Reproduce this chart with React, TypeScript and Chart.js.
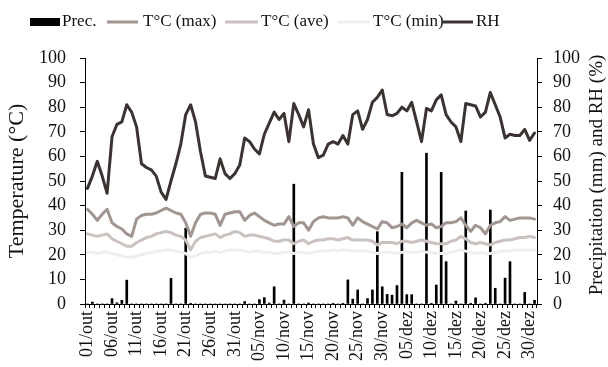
import React, { useEffect, useRef } from 'react';
import { Chart, registerables } from 'chart.js';

Chart.register(...registerables);

// Daily categories, 01/out .. 31/dez
const MONTHS: [string, number][] = [['out', 31], ['nov', 30], ['dez', 31]];
const DAYS: string[] = [];
for (const [m, n] of MONTHS) {
  for (let d = 1; d <= n; d++) DAYS.push(`${String(d).padStart(2, '0')}/${m}`);
}

// Labels shown on the date axis
const TICK_LABELS = [
  '01/out', '06/out', '11/out', '16/out', '21/out', '26/out', '31/out',
  '05/nov', '10/nov', '15/nov', '20/nov', '25/nov', '30/nov',
  '05/dez', '10/dez', '15/dez', '20/dez', '25/dez', '30/dez',
];

// Daily precipitation (mm)
const PREC = [
  0, 0.8, 0, 0, 0, 2.2, 0.5, 1.5, 9.7, 0,
  0, 0, 0, 0, 0, 0, 0, 10.4, 0, 0,
  30.8, 0.3, 0, 0, 0, 0, 0, 0, 0, 0,
  0, 0, 1, 0, 0, 1.8, 2.6, 0.4, 7, 0,
  1.6, 0, 48.7, 0, 0, 0.4, 0, 0, 0, 0,
  0.3, 0, 0.3, 9.8, 2, 5.7, 0, 2.2, 5.7, 29.4,
  7, 3.9, 3.6, 7.5, 53.5, 3.8, 3.8, 0, 0, 61.3,
  0.3, 7.7, 53.5, 17.2, 0, 1.2, 0, 37.8, 0.3, 2.5,
  0, 0.3, 38.2, 6.4, 0, 10.5, 17.2, 0, 0, 4.7,
  0, 1.5,
];

// Daily maximum temperature (°C)
const T_MAX = [
  38.5, 36.5, 34, 36.5, 38.5, 33, 31.5, 30.5, 28.5, 27.5,
  34.5, 36, 36.5, 36.5, 37, 38, 39, 38, 37, 36.5,
  33, 27.5, 33, 36.5, 37, 37, 36.5, 32, 36.5, 37,
  37.5, 37.5, 34, 36, 37, 35.5, 34, 33, 32, 32.5,
  32.5, 35.5, 31.5, 33, 33, 30, 33.5, 35, 35.5, 35,
  35, 35, 35.5, 35, 32, 35, 33.5, 32.5, 31.5, 30.5,
  33.5, 33, 31, 31.5, 32.5, 31, 33, 34, 33, 32,
  32.5, 31, 31.5, 33, 33, 33.5, 35, 32, 29.5, 32,
  31, 28.5, 32, 33, 33.5, 35.5, 34, 34.5, 35, 35,
  35, 34.5,
];

// Daily mean temperature (°C)
const T_AVE = [
  28.5, 28, 27.5, 28, 28.5, 26.5, 25.5, 24.5, 23.5, 23.5,
  25, 26, 27, 27.5, 28.5, 29, 29.5, 29, 28, 27.5,
  26, 22, 25.5, 27, 27.5, 28, 28.5, 27, 28, 28.5,
  29.5, 29, 27.5, 28, 28, 27.5, 27, 26.5, 25.5, 25.5,
  26, 26, 24.5, 25.5, 26, 24.5, 25.5, 26, 26, 26.5,
  26.5, 26, 26.5, 27, 26, 26, 26, 26, 25.5, 24,
  25, 25, 25, 24.5, 25.5, 25.5, 25, 25.5, 26, 25.5,
  25, 24.5, 24.5, 24.5, 25.5, 26, 27.5, 26.5, 25, 24.5,
  25, 24.5, 24, 25, 25.5, 26, 26, 26.5, 27, 27,
  27.5, 27,
];

// Daily minimum temperature (°C)
const T_MIN = [
  21, 21, 20.5, 21, 21, 20.5, 20, 19.5, 19, 19,
  19.5, 20, 20.5, 21, 21.5, 21.5, 22, 22, 21.5, 21,
  20.5, 19, 19.5, 20.5, 21, 21, 21.5, 21, 21.5, 22,
  22, 22, 21.5, 21, 21.5, 21.5, 21, 21, 20.5, 20.5,
  21, 21, 20.5, 21, 21, 20.5, 21, 21.5, 21.5, 21.5,
  22, 21.5, 22, 22, 21.5, 21.5, 21.5, 21.5, 21, 20.5,
  21, 21, 21, 20.5, 21, 21, 21, 21, 21.5, 21,
  21, 20.5, 20.5, 20.5, 21, 21.5, 22, 21.5, 21, 20.5,
  21, 20.5, 20.5, 21, 21.5, 21.5, 21.5, 22, 22, 22,
  22, 22,
];

// Daily relative humidity (%)
const RH = [
  47, 52, 58, 52, 45, 68, 73, 74, 81, 78,
  72, 57, 55.5, 54.5, 52, 45.5, 42.5, 50, 57, 65,
  77, 81, 74, 62, 52, 51.5, 51, 59, 53, 51,
  53, 56.5, 67.5, 66, 63, 61, 69, 73.5, 78, 75,
  77.5, 66, 81.5, 77, 72, 79, 65, 59.5, 60.5, 65,
  66, 65, 68.5, 65, 77, 78.5, 71, 75, 82, 84,
  87, 77, 76.5, 77.5, 80, 78.5, 82, 74, 66, 79.5,
  78.5, 83, 85, 77, 74, 72, 66, 81.5, 81, 80.5,
  76, 78, 86, 81, 76, 67.5, 69, 68.5, 68.5, 71,
  66.5, 69.5,
];

const FONT = '"Liberation Serif", "Times New Roman", serif';
const TEXT = '#111';
const C_PREC = '#000000';
const C_MAX = '#a09590';
const C_AVE = '#cac2bf';
const C_MIN = '#f0efef';
const C_RH = '#3a3331';

// Legend row drawn above the plot
const LEGEND = [
  { text: 'Prec.', kind: 'box', color: C_PREC, x0: 30, x1: 60, tx: 62 },
  { text: 'T°C (max)', kind: 'line', color: C_MAX, x0: 107, x1: 138, tx: 143 },
  { text: 'T°C (ave)', kind: 'line', color: C_AVE, x0: 225, x1: 258, tx: 261 },
  { text: 'T°C (min)', kind: 'line', color: C_MIN, x0: 338, x1: 370, tx: 373 },
  { text: 'RH', kind: 'line', color: C_RH, x0: 443, x1: 473, tx: 476 },
];

const overlayPlugin = {
  id: 'overlay',
  afterDraw(chart: any) {
    const ctx = chart.ctx as CanvasRenderingContext2D;
    ctx.save();
    ctx.font = `17px ${FONT}`;
    ctx.textBaseline = 'middle';
    const cy = 22;
    for (const it of LEGEND) {
      if (it.kind === 'box') {
        ctx.fillStyle = it.color;
        ctx.fillRect(it.x0, cy - 4, it.x1 - it.x0, 8);
      } else {
        ctx.strokeStyle = it.color;
        ctx.lineWidth = 3;
        ctx.beginPath();
        ctx.moveTo(it.x0, cy);
        ctx.lineTo(it.x1, cy);
        ctx.stroke();
      }
      ctx.fillStyle = TEXT;
      ctx.textAlign = 'left';
      ctx.fillText(it.text, it.tx, cy);
    }
    // right-hand axis title, reading bottom to top
    const { top, bottom } = chart.chartArea;
    ctx.font = `19px ${FONT}`;
    ctx.translate(597, (top + bottom) / 2 - 6);
    ctx.rotate(-Math.PI / 2);
    ctx.textAlign = 'center';
    ctx.fillStyle = TEXT;
    ctx.fillText('Precipitation (mm) and RH (%)', 0, 0);
    ctx.restore();
  },
};

const lineSet = (label: string, data: number[], color: string, axis: string, order: number) => ({
  type: 'line' as const,
  label,
  data,
  yAxisID: axis,
  borderColor: color,
  backgroundColor: color,
  borderWidth: 3,
  pointRadius: 0,
  tension: 0,
  borderJoinStyle: 'round' as const,
  borderCapStyle: 'round' as const,
  order,
});

export default function App() {
  const ref = useRef<HTMLCanvasElement>(null);

  useEffect(() => {
    if (!ref.current) return;
    const axisGrid = {
      display: true,
      drawOnChartArea: false,
      drawTicks: true,
      tickLength: 5,
      color: '#000',
      tickColor: '#000',
    };
    const axisBorder = { display: true, color: '#000', width: 1 };
    const chart = new Chart(ref.current, {
      type: 'bar',
      data: {
        labels: DAYS,
        datasets: [
          lineSet('RH', RH, C_RH, 'y1', 0),
          lineSet('T°C (max)', T_MAX, C_MAX, 'y', 1),
          lineSet('T°C (ave)', T_AVE, C_AVE, 'y', 2),
          lineSet('T°C (min)', T_MIN, C_MIN, 'y', 3),
          {
            type: 'bar' as const,
            label: 'Prec.',
            data: PREC,
            yAxisID: 'y1',
            backgroundColor: C_PREC,
            barThickness: 2,
            order: 4,
          },
        ] as any,
      },
      options: {
        animation: false,
        responsive: false,
        layout: { padding: { top: 58, left: 0, right: 0, bottom: 0 } },
        plugins: {
          legend: { display: false },
          tooltip: { enabled: false },
        },
        scales: {
          x: {
            type: 'category',
            offset: true,
            grid: { ...axisGrid, offset: true, tickLength: 4 },
            border: axisBorder,
            ticks: {
              autoSkip: false,
              minRotation: 90,
              maxRotation: 90,
              padding: 3,
              color: TEXT,
              font: { family: FONT, size: 18 },
              callback: (_v: any, i: number) => (TICK_LABELS.includes(DAYS[i]) ? DAYS[i] : ''),
            },
            afterFit: (s: any) => { s.height = 63; },
          },
          y: {
            position: 'left',
            min: 0,
            max: 100,
            grid: axisGrid,
            border: axisBorder,
            ticks: { stepSize: 10, padding: 14, color: TEXT, font: { family: FONT, size: 18 } },
            title: {
              display: true,
              text: 'Temperature (°C)',
              color: TEXT,
              font: { family: FONT, size: 22 },
              padding: { top: 4, bottom: 0 },
            },
            afterFit: (s: any) => { s.width = 85; },
          },
          y1: {
            position: 'right',
            min: 0,
            max: 100,
            grid: axisGrid,
            border: axisBorder,
            ticks: { stepSize: 10, padding: 11, color: TEXT, font: { family: FONT, size: 18 } },
            afterFit: (s: any) => { s.width = 71; },
          },
        },
      } as any,
      plugins: [overlayPlugin],
    });
    return () => chart.destroy();
  }, []);

  return (
    <div style={{ position: 'fixed', left: 0, top: 0, width: 608, height: 367, background: '#fff' }}>
      <canvas ref={ref} width={608} height={367} style={{ width: 608, height: 367, display: 'block' }} />
    </div>
  );
}
